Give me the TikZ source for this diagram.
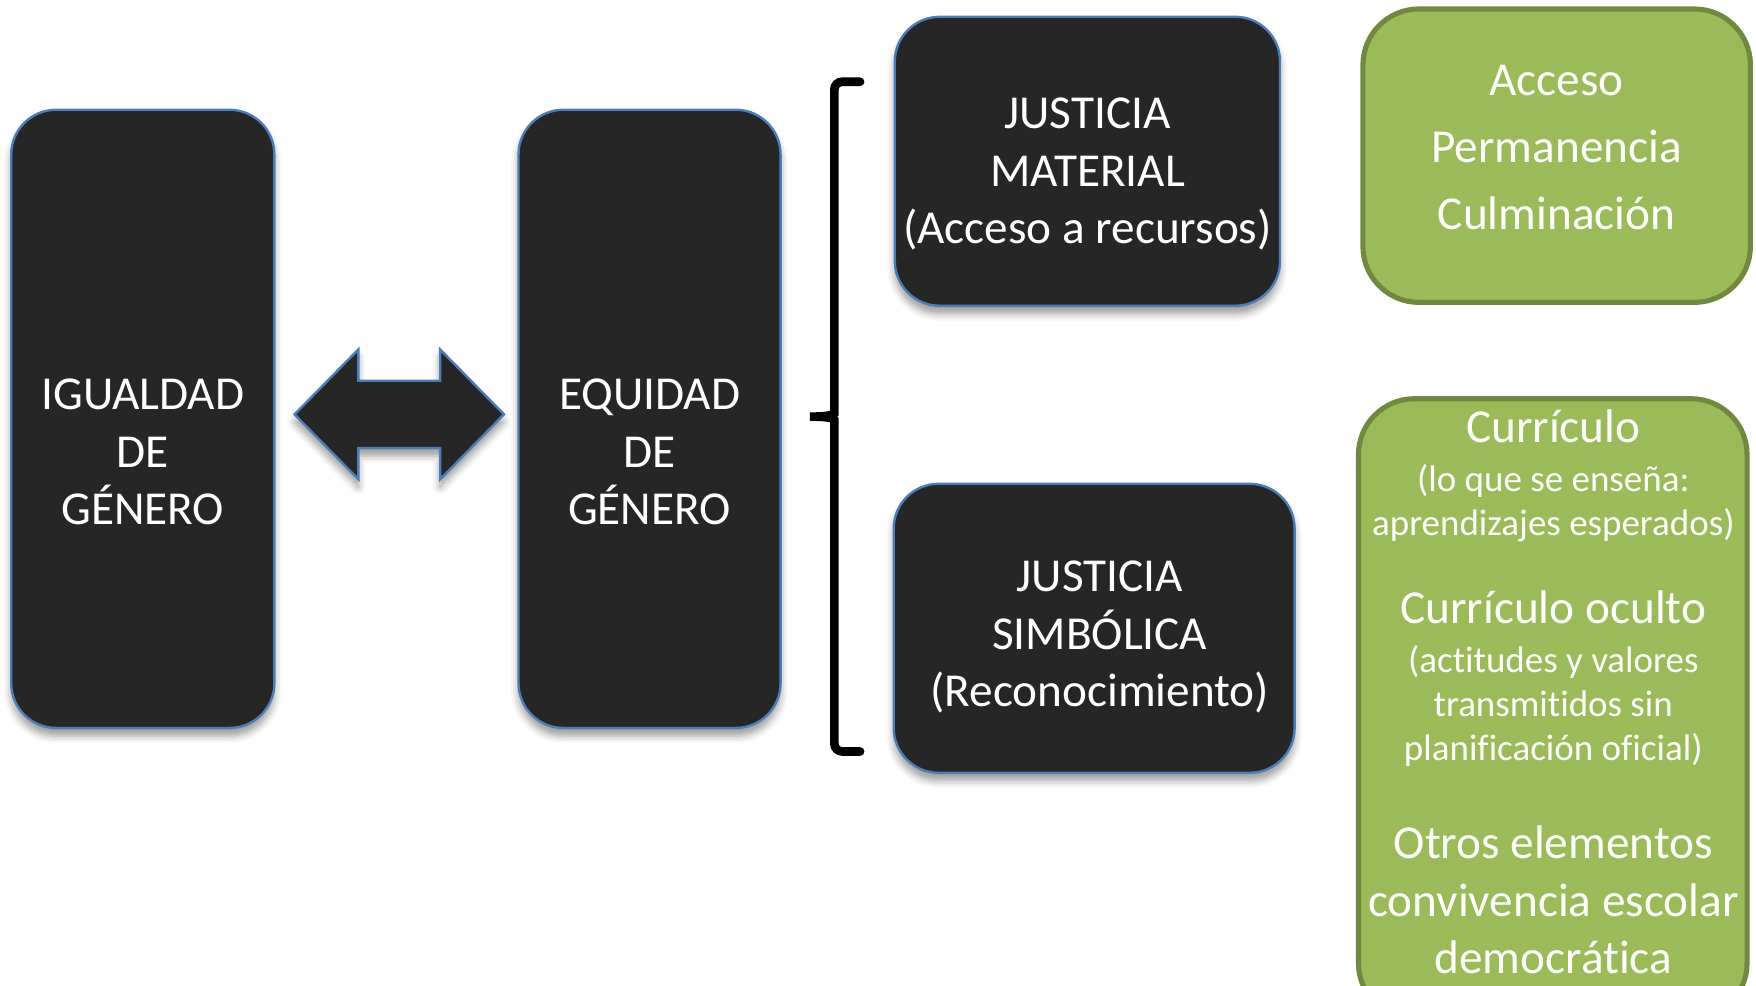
\documentclass[tikz,border=0pt]{standalone}
\usepackage{fontspec}
\setmainfont{Carlito}[Ligatures=NoCommon]
\usetikzlibrary{shadows.blur}
\definecolor{boxdark}{HTML}{262626}
\definecolor{boxblue}{HTML}{4A7EBB}
\definecolor{leafgreen}{HTML}{9BBB59}
\definecolor{leafedge}{HTML}{71893F}
\tikzset{
  darkbox/.style={draw=boxblue, line width=0.6pt, fill=boxdark, rounded corners=0.4cm,
    blur shadow={shadow xshift=0pt, shadow yshift=-2pt}},
  linkarrow/.style={draw=boxblue, line width=0.6pt, fill=boxdark,
    blur shadow={shadow xshift=0pt, shadow yshift=-2pt}},
  greenbox/.style={draw=leafedge, line width=1.3pt, fill=leafgreen, rounded corners=0.5cm},
  boxtext/.style={text=white, align=center, inner sep=0pt, font=\fontsize{12}{14.6}\selectfont},
  notetext/.style={text=white, align=center, inner sep=0pt, font=\fontsize{9.4}{11.2}\selectfont},
  bracket/.style={line width=2.2pt, line cap=round, rounded corners=2pt}
}
\begin{document}
\begin{tikzpicture}
\useasboundingbox (0,0) rectangle (15.68,-8.80);
\node[darkbox, minimum width=2.35cm, minimum height=5.52cm] (igualdad) at (1.275,-3.74) {};
\node[boxtext] (igualdadtxt) at ([yshift=-0.295cm]igualdad.center) {IGUALDAD\\DE\\GÉNERO};
\node[darkbox, minimum width=2.34cm, minimum height=5.52cm] (equidad) at (5.80,-3.74) {};
\node[boxtext] (equidadtxt) at ([yshift=-0.295cm]equidad.center) {EQUIDAD\\DE\\GÉNERO};
\filldraw[linkarrow] (2.63,-3.70) -- (3.20,-3.12) -- (3.20,-3.40) -- (3.93,-3.40) -- (3.93,-3.12)
  -- (4.50,-3.70) -- (3.93,-4.28) -- (3.93,-4.00) -- (3.20,-4.00) -- (3.20,-4.28) -- cycle;
\draw[bracket] (7.68,-0.73) -| (7.45,-3.62) .. controls (7.45,-3.70) and (7.40,-3.72) .. (7.19,-3.72)
  .. controls (7.40,-3.72) and (7.45,-3.74) .. (7.45,-3.82) |- (7.68,-6.71);
\node[darkbox, minimum width=3.44cm, minimum height=2.58cm] (material) at (9.71,-1.44) {};
\node[boxtext] (materialtxt) at ([yshift=-0.115cm]material.center) {JUSTICIA\\MATERIAL\\(Acceso a recursos)};
\node[darkbox, minimum width=3.58cm, minimum height=2.58cm] (simbolica) at (9.77,-5.61) {};
\node[boxtext] (simbolicatxt) at ([xshift=0.05cm,yshift=-0.08cm]simbolica.center) {JUSTICIA\\SIMBÓLICA\\(Reconocimiento)};
\node[greenbox, minimum width=3.46cm, minimum height=2.62cm] (acceso) at (13.90,-1.39) {};
\node[boxtext, font=\fontsize{12}{17}\selectfont] (accesotxt) at ([yshift=0.07cm]acceso.center) {Acceso\\Permanencia\\Culminación};
\node[greenbox, minimum width=3.47cm, minimum height=5.54cm] (curriculo) at (13.865,-6.33) {};
\node[boxtext] (curtitle) at (13.87,-3.81) {Currículo};
\node[notetext] (curnote) at (13.87,-4.495) {(lo que se enseña:\\aprendizajes esperados)};
\node[boxtext] (ocultotitle) at (13.87,-5.42) {Currículo oculto};
\node[notetext] (ocultonote) at (13.87,-6.30) {(actitudes y valores\\transmitidos sin\\planificación oficial)};
\node[boxtext] (otros) at (13.87,-8.035) {Otros elementos\\convivencia escolar\\democrática};
\end{tikzpicture}
\end{document}
